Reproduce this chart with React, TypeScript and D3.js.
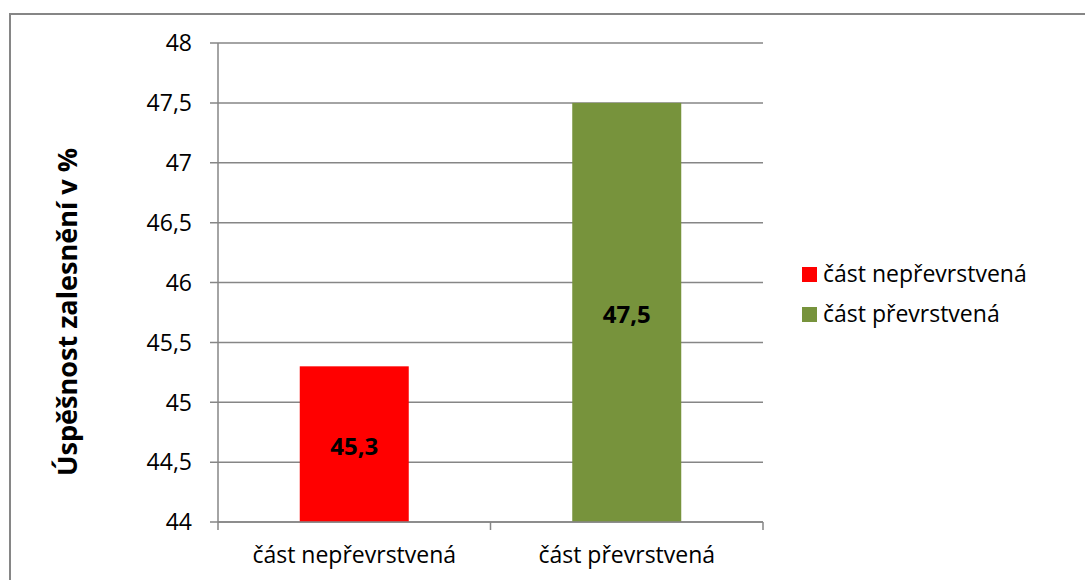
import React from "react";
import * as d3 from "d3";

// Afforestation success by part of the area
const categories: string[] = ["část nepřevrstvená", "část převrstvená"];
const values: number[] = [45.3, 47.5];
const colors: string[] = ["#FF0000", "#77933C"];
const yTicks: number[] = [44, 44.5, 45, 45.5, 46, 46.5, 47, 47.5, 48];
const yLabel = "Úspěšnost zalesnění v %";

const W = 1085;
const H = 580;
const plot = { left: 218, right: 763, top: 43, bottom: 522 };
const FONT = "'Open Sans', 'DejaVu Sans', sans-serif";
const GRID = "#868686";

const fmt = (v: number) => String(v).replace(".", ",");

export default function App() {
  const y = d3.scaleLinear().domain([44, 48]).range([plot.bottom, plot.top]);
  const x = d3
    .scaleBand<string>()
    .domain(categories)
    .range([plot.left, plot.right])
    .paddingInner(0.6)
    .paddingOuter(0.3);
  const step = x.step();
  const boundaries = d3.range(categories.length + 1).map((i) => plot.left + i * step);

  return (
    <svg
      width={W}
      height={H}
      style={{ position: "absolute", left: 0, top: 0, background: "#fff" }}
      fontFamily={FONT}
    >
      <rect x={0} y={0} width={W} height={H} fill="#fff" />
      <rect x={10} y={14} width={W + 20} height={H + 20} fill="none" stroke={GRID} strokeWidth={2} />

      {/* gridlines and y ticks */}
      {yTicks.map((t) => (
        <g key={t}>
          <line x1={plot.left - 8} x2={plot.right} y1={y(t)} y2={y(t)} stroke={GRID} strokeWidth={1.5} />
          <text x={192} y={y(t)} dy="0.36em" textAnchor="end" fontSize={23} fill="#000">
            {fmt(t)}
          </text>
        </g>
      ))}

      {/* bars */}
      {categories.map((c, i) => (
        <rect
          key={c}
          x={x(c)!}
          y={y(values[i])}
          width={x.bandwidth()}
          height={y(44) - y(values[i])}
          fill={colors[i]}
        />
      ))}

      {/* axes */}
      <line x1={plot.left} x2={plot.left} y1={plot.top} y2={plot.bottom} stroke={GRID} strokeWidth={1.5} />
      <line x1={plot.left} x2={plot.right} y1={plot.bottom} y2={plot.bottom} stroke={GRID} strokeWidth={1.5} />
      {boundaries.map((bx, i) => (
        <line key={i} x1={bx} x2={bx} y1={plot.bottom} y2={plot.bottom + 8} stroke={GRID} strokeWidth={1.5} />
      ))}

      {/* data labels */}
      {categories.map((c, i) => (
        <text
          key={c}
          x={x(c)! + x.bandwidth() / 2}
          y={(y(values[i]) + y(44)) / 2 + 2}
          dy="0.36em"
          textAnchor="middle"
          fontSize={24}
          fontWeight="bold"
          fill="#000"
        >
          {fmt(values[i])}
        </text>
      ))}

      {/* category labels */}
      {categories.map((c) => (
        <text key={c} x={x(c)! + x.bandwidth() / 2} y={563} textAnchor="middle" fontSize={23} fill="#000">
          {c}
        </text>
      ))}

      {/* y axis title */}
      <text
        transform={`translate(77, 312) rotate(-90)`}
        textAnchor="middle"
        fontSize={26}
        fontWeight="bold"
        textLength={328}
        lengthAdjust="spacingAndGlyphs"
        fill="#000"
      >
        {yLabel}
      </text>

      {/* legend */}
      {categories.map((c, i) => (
        <g key={c} transform={`translate(802, ${267 + i * 40})`}>
          <rect x={0} y={0} width={15} height={15} fill={colors[i]} />
          <text x={21} y={15} fontSize={23} fill="#000">
            {c}
          </text>
        </g>
      ))}
    </svg>
  );
}
